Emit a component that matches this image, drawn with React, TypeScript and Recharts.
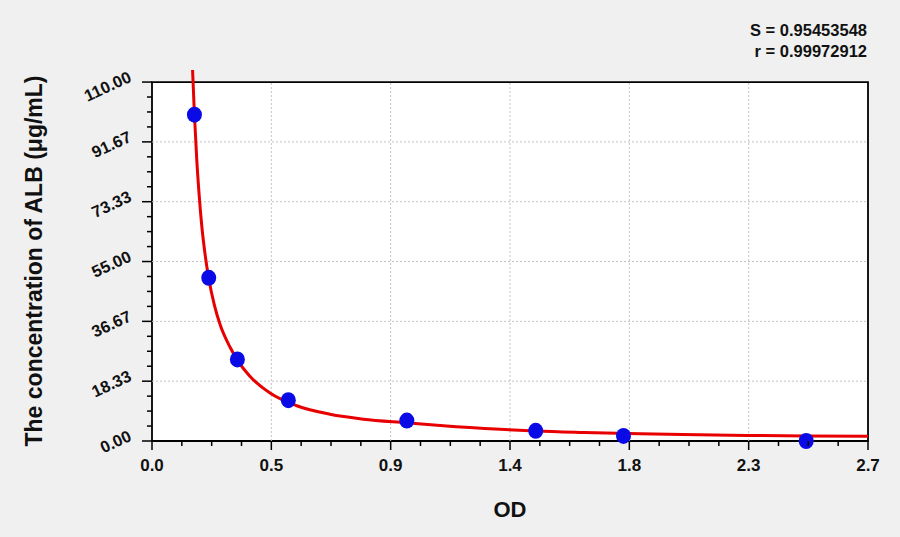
import React from "react";
import {
  ComposedChart,
  XAxis,
  YAxis,
  Line,
  Scatter,
  ReferenceArea,
  ReferenceLine,
} from "recharts";

// ---- data ----
const xMajor = [0, 0.45, 0.9, 1.35, 1.8, 2.25, 2.7];
const xLabels = ["0.0", "0.5", "0.9", "1.4", "1.8", "2.3", "2.7"];
const yMajor = [0, 18.333, 36.667, 55, 73.333, 91.667, 110];
const yLabels = ["0.00", "18.33", "36.67", "55.00", "73.33", "91.67", "110.00"];

const stdOD = [0.16, 0.214, 0.322, 0.514, 0.961, 1.447, 1.778, 2.467];
const stdConc = [100, 50, 25, 12.5, 6.25, 3.125, 1.5625, 0];

const curveOD = [
  0.153, 0.16, 0.169, 0.178, 0.187, 0.2, 0.214, 0.235, 0.257, 0.294, 0.322,
  0.37, 0.445, 0.546, 0.671, 0.797, 0.961, 1.099, 1.313, 1.447, 1.627, 1.841,
  2.0, 2.243, 2.467, 2.7,
];
const curveConc = [
  113.7, 100, 85.9, 75.2, 66.5, 57.3, 49.8, 41.7, 35.6, 28.8, 24.8, 19.8, 14.7,
  10.8, 8.2, 6.7, 5.6, 4.7, 3.6, 3.05, 2.6, 2.2, 1.98, 1.72, 1.55, 1.42,
];

const statS = "S = 0.95453548";
const statR = "r = 0.99972912";
const xTitle = "OD";
const yTitle = "The concentration of ALB (μg/mL)";

// ---- derived ----
const subdivide = (major: number[]) => {
  const out: number[] = [];
  for (let i = 0; i < major.length; i++) {
    out.push(major[i]);
    if (i < major.length - 1) {
      const step = (major[i + 1] - major[i]) / 4;
      for (let k = 1; k < 4; k++) out.push(major[i] + step * k);
    }
  }
  return out;
};
const xTicksAll = subdivide(xMajor);
const yTicksAll = subdivide(yMajor);

const stdData = stdOD.map((x, i) => ({ x, y: stdConc[i] }));
const curveData = curveOD.map((x, i) => ({ x, y: curveConc[i] }));

const FONT = "'Liberation Sans', Arial, sans-serif";

const XTick = (props: any) => {
  const { x, y, index } = props;
  const major = index % 4 === 0;
  return (
    <g>
      <line x1={x} y1={y} x2={x} y2={y + (major ? 9 : 5)} stroke="#000" strokeWidth={1.5} />
      {major && (
        <text
          x={x}
          y={y + 30}
          textAnchor="middle"
          fontFamily={FONT}
          fontWeight="bold"
          fontSize={17}
          fill="#111"
        >
          {xLabels[index / 4]}
        </text>
      )}
    </g>
  );
};

const YTick = (props: any) => {
  const { x, y, index } = props;
  const major = index % 4 === 0;
  const tx = x - 19.5;
  const ty = y - 1;
  return (
    <g>
      <line x1={x} y1={y} x2={x - (major ? 10 : 5)} y2={y} stroke="#000" strokeWidth={1.5} />
      {major && (
        <text
          x={tx}
          y={ty}
          textAnchor="end"
          transform={`rotate(-25, ${tx}, ${ty})`}
          fontFamily={FONT}
          fontWeight="bold"
          fontSize={16.5}
          fill="#111"
        >
          {yLabels[index / 4]}
        </text>
      )}
    </g>
  );
};

const Dot = (props: any) => {
  const { cx, cy } = props;
  if (cx == null || cy == null) return null;
  return <ellipse cx={cx} cy={cy} rx={7.5} ry={8} fill="#0a0ae6" />;
};

export default function App() {
  return (
    <div
      style={{
        position: "absolute",
        left: 0,
        top: 0,
        width: 900,
        height: 537,
        background: "#f0f0f0",
      }}
    >
      <ComposedChart
        width={900}
        height={537}
        margin={{ top: 69, right: 32, bottom: 56, left: 92 }}
      >
        <XAxis
          type="number"
          dataKey="x"
          domain={[0, 2.7]}
          ticks={xTicksAll}
          interval={0}
          tick={<XTick />}
          tickSize={0}
          tickMargin={0}
          tickLine={false}
          axisLine={false}
          height={40}
          allowDataOverflow
        />
        <YAxis
          type="number"
          dataKey="y"
          domain={[0, 114]}
          ticks={yTicksAll}
          interval={0}
          tick={<YTick />}
          tickSize={0}
          tickMargin={0}
          tickLine={false}
          axisLine={false}
          width={60}
        />
        <ReferenceArea
          x1={0}
          x2={2.7}
          y1={0}
          y2={110}
          fill="#ffffff"
          fillOpacity={1}
          stroke="none"
          ifOverflow="visible"
        />
        {xMajor.slice(1, -1).map((v) => (
          <ReferenceLine
            key={"gx" + v}
            segment={[
              { x: v, y: 0 },
              { x: v, y: 110 },
            ]}
            stroke="#c4c4c4"
            strokeDasharray="2 2"
            strokeWidth={1}
            ifOverflow="visible"
          />
        ))}
        {yMajor.slice(1, -1).map((v) => (
          <ReferenceLine
            key={"gy" + v}
            y={v}
            stroke="#c4c4c4"
            strokeDasharray="2 2"
            strokeWidth={1}
            ifOverflow="visible"
          />
        ))}
        <ReferenceArea
          x1={0}
          x2={2.7}
          y1={0}
          y2={110}
          fill="none"
          stroke="#000"
          strokeWidth={1.8}
          ifOverflow="visible"
        />
        <Scatter data={stdData} dataKey="y" shape={<Dot />} isAnimationActive={false} />
        <Line
          data={curveData}
          dataKey="y"
          type="monotone"
          stroke="#e80000"
          strokeWidth={3}
          dot={false}
          activeDot={false}
          isAnimationActive={false}
        />
      </ComposedChart>
      <svg
        width={900}
        height={537}
        style={{ position: "absolute", left: 0, top: 0, pointerEvents: "none" }}
      >
        <text x={867} y={36} textAnchor="end" fontFamily={FONT} fontWeight="bold" fontSize={16.5} fill="#111">
          {statS}
        </text>
        <text x={867} y={57} textAnchor="end" fontFamily={FONT} fontWeight="bold" fontSize={16.5} fill="#111">
          {statR}
        </text>
        <text x={510} y={517} textAnchor="middle" fontFamily={FONT} fontWeight="bold" fontSize={22} fill="#111">
          {xTitle}
        </text>
        <text
          x={41.5}
          y={261}
          textAnchor="middle"
          transform="rotate(-90, 41.5, 261)"
          fontFamily={FONT}
          fontWeight="bold"
          fontSize={23}
          fill="#111"
        >
          {yTitle}
        </text>
      </svg>
    </div>
  );
}
